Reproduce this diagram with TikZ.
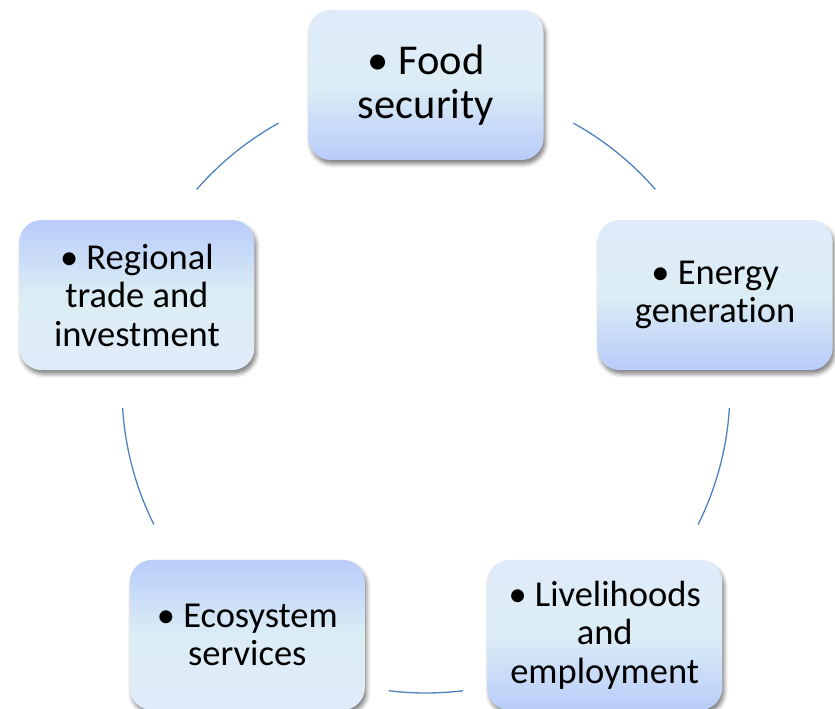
\documentclass[tikz,border=0pt]{standalone}
\usepackage{fontspec}
\setmainfont{Carlito}[Ligatures=NoCommon]
\usetikzlibrary{shadows.blur}
\definecolor{paleblue}{RGB}{224,235,250}
\definecolor{paleaqua}{RGB}{219,237,244}
\definecolor{softblue}{RGB}{185,204,250}
\definecolor{ringblue}{RGB}{79,129,189}

\begin{document}
\begin{tikzpicture}
  [x=1pt, y=1pt,
   goal/.style={shape=rectangle, rounded corners=22pt, align=center,
     minimum width=235pt, minimum height=150pt,
     top color=paleblue, bottom color=softblue, middle color=paleaqua,
     blur shadow={shadow xshift=2pt, shadow yshift=-4pt,
       shadow blur radius=4pt, shadow opacity=50},
     font=\fontsize{36.5}{38.5}\selectfont},
   goal flipped/.style={goal,
     top color=softblue, bottom color=paleblue, middle color=paleaqua},
   ring/.style={draw=ringblue, line width=1.3pt}]
  \useasboundingbox (0,0) rectangle (835,709);
  \coordinate (hub) at (426,320);

  \node[goal, font=\fontsize{42.5}{44}\selectfont] (food)
    at ([shift={(90:304)}]hub) {• Food\\security};
  \node[goal] (energy) at ([shift={(18:304)}]hub) {• Energy\\generation};
  \node[goal] (jobs) at ([shift={(306:304)}]hub)
    {• Livelihoods\\and\\employment};
  \node[goal flipped] (eco) at ([shift={(234:304)}]hub)
    {• Ecosystem\\services};
  \node[goal flipped] (trade) at ([shift={(162:304)}]hub)
    {• Regional\\trade and\\investment};

  % ring segments in the gaps
  \draw[ring] ([shift={(61:304)}]hub) arc[start angle=61, end angle=41, radius=304];
  \draw[ring] ([shift={(-3.6:304)}]hub) arc[start angle=-3.6, end angle=-26.5, radius=304];
  \draw[ring] ([shift={(277:304)}]hub) arc[start angle=277, end angle=263, radius=304];
  \draw[ring] ([shift={(206.5:304)}]hub) arc[start angle=206.5, end angle=183.6, radius=304];
  \draw[ring] ([shift={(139:304)}]hub) arc[start angle=139, end angle=119, radius=304];
\end{tikzpicture}
\end{document}
